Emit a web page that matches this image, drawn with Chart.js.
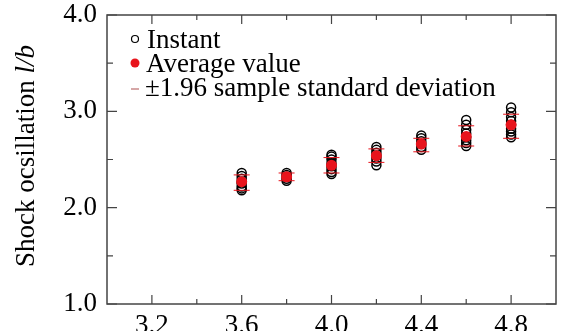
<!DOCTYPE html>
<html>
<head>
<meta charset="utf-8">
<script src="https://cdn.jsdelivr.net/npm/chart.js@4"></script>
<style>
  html, body { margin: 0; padding: 0; background: #fff; }
  #wrap { width: 565px; height: 331px; }
</style>
</head>
<body>
<div id="wrap"><canvas id="myChart" width="565" height="331"></canvas></div>
<script>
// Mach numbers (x positions of the clusters)
machs = [3.6, 3.8, 4.0, 4.2, 4.4, 4.6, 4.8];
// instant values
instant36 = [2.36, 2.33, 2.30, 2.27, 2.25, 2.22, 2.20, 2.18];
instant38 = [2.36, 2.34, 2.32, 2.30, 2.28];
instant40 = [2.55, 2.53, 2.50, 2.46, 2.43, 2.40, 2.37, 2.35];
instant42 = [2.63, 2.60, 2.57, 2.54, 2.51, 2.48, 2.44];
instant44 = [2.75, 2.72, 2.69, 2.66, 2.63, 2.60];
instant46 = [2.91, 2.86, 2.81, 2.77, 2.73, 2.70, 2.67, 2.64];
instant48 = [3.04, 2.99, 2.94, 2.90, 2.86, 2.82, 2.79, 2.76, 2.73];
averages = [2.27, 2.32, 2.44, 2.54, 2.66, 2.74, 2.86];
sdUpper = [2.34, 2.36, 2.52, 2.61, 2.72, 2.85, 2.97];
sdLower = [2.18, 2.28, 2.36, 2.47, 2.58, 2.64, 2.72];
xTicks = [3.2, 3.6, 4.0, 4.4, 4.8];
xMinor = [3.4, 3.8, 4.2, 4.6];
yTicks = [1.0, 2.0, 3.0, 4.0];
yMinor = [1.5, 2.5, 3.5];

instantLists = [instant36, instant38, instant40, instant42, instant44, instant46, instant48];
instantPts = [];
for (i = 0; i < machs.length; i++) {
  for (j = 0; j < instantLists[i].length; j++) {
    instantPts.push({x: machs[i], y: instantLists[i][j]});
  }
}
avgPts = [];
sdPts = [];
for (i = 0; i < machs.length; i++) {
  avgPts.push({x: machs[i], y: averages[i]});
  sdPts.push({x: machs[i], y: sdUpper[i]});
  sdPts.push({x: machs[i], y: sdLower[i]});
}

serif = "'Liberation Serif', 'Times New Roman', serif";
fs = 27;
axisColor = '#444';
red = '#e8141c';

// frame, inward ticks, legend and y title
let extras = {
  id: 'extras',
  afterDraw(chart) {
    let c = chart.ctx, a = chart.chartArea;
    let xs = chart.scales.x, ys = chart.scales.y;
    c.save();
    c.strokeStyle = axisColor;
    c.lineWidth = 1.5;
    c.strokeRect(a.left, a.top, a.right - a.left, a.bottom - a.top);
    c.lineWidth = 1.2;
    c.beginPath();
    function xt(v, len) {
      let p = xs.getPixelForValue(v);
      c.moveTo(p, a.bottom); c.lineTo(p, a.bottom - len);
      c.moveTo(p, a.top); c.lineTo(p, a.top + len);
    }
    function yt(v, len) {
      let p = ys.getPixelForValue(v);
      c.moveTo(a.left, p); c.lineTo(a.left + len, p);
      c.moveTo(a.right, p); c.lineTo(a.right - len, p);
    }
    xTicks.forEach(v => xt(v, 9));
    xMinor.forEach(v => xt(v, 5));
    yTicks.forEach(v => yt(v, 10));
    yMinor.forEach(v => yt(v, 6));
    c.stroke();

    // legend
    c.font = fs + 'px ' + serif;
    c.fillStyle = '#000';
    c.textBaseline = 'alphabetic';
    c.textAlign = 'left';
    let lx = 135, tx = 147;
    c.beginPath();
    c.lineWidth = 1.2;
    c.strokeStyle = '#000';
    c.arc(lx, 39, 3.5, 0, Math.PI * 2);
    c.stroke();
    c.fillText('Instant', tx, 48);
    c.beginPath();
    c.fillStyle = red;
    c.arc(lx, 63, 4.5, 0, Math.PI * 2);
    c.fill();
    c.fillStyle = '#000';
    c.fillText('Average value', tx - 1, 72);
    c.strokeStyle = '#c98a8a';
    c.lineWidth = 1.5;
    c.beginPath();
    c.moveTo(131, 89); c.lineTo(139, 89);
    c.stroke();
    c.fillText('\u00b11.96 sample standard deviation', tx - 2, 96);

    // y axis title with italic l/b
    c.translate(34, 156);
    c.rotate(-Math.PI / 2);
    let t1 = 'Shock ocsillation ', t2 = 'l/b';
    c.font = fs + 'px ' + serif;
    let w1 = c.measureText(t1).width;
    c.font = 'italic ' + fs + 'px ' + serif;
    let w2 = c.measureText(t2).width;
    let sx = -(w1 + w2) / 2;
    c.font = fs + 'px ' + serif;
    c.fillText(t1, sx, 0);
    c.font = 'italic ' + fs + 'px ' + serif;
    c.fillText(t2, sx + w1, 0);
    c.restore();
  }
};

let ctx = document.getElementById('myChart');
new Chart(ctx, {
  type: 'scatter',
  data: {
    datasets: [
      {
        label: '\u00b11.96 sample standard deviation',
        data: sdPts,
        pointStyle: 'line',
        pointRadius: 8,
        borderColor: red,
        borderWidth: 1,
        order: 0
      },
      {
        label: 'Average value',
        data: avgPts,
        pointStyle: 'circle',
        pointRadius: 5.5,
        backgroundColor: red,
        borderColor: red,
        borderWidth: 0,
        order: 1
      },
      {
        label: 'Instant',
        data: instantPts,
        pointStyle: 'circle',
        pointRadius: 4.5,
        backgroundColor: 'rgba(255,255,255,0)',
        borderColor: '#000',
        borderWidth: 1.5,
        order: 2
      }
    ]
  },
  options: {
    responsive: false,
    animation: false,
    layout: {padding: {left: 0, right: 8, top: 0, bottom: 0}},
    plugins: {legend: {display: false}, tooltip: {enabled: false}},
    scales: {
      x: {
        type: 'linear',
        min: 3.0,
        max: 5.0,
        afterBuildTicks: s => { s.ticks = xTicks.map(v => ({value: v})); },
        afterFit: s => { s.height = 27; },
        grid: {display: false, drawTicks: false},
        border: {display: false},
        ticks: {
          padding: 6,
          color: '#000',
          font: {family: serif, size: fs},
          callback: v => v.toFixed(1)
        }
      },
      y: {
        type: 'linear',
        min: 1.0,
        max: 4.0,
        afterBuildTicks: s => { s.ticks = yTicks.map(v => ({value: v})); },
        afterFit: s => { s.width = 107; s.paddingTop = 15; s.paddingBottom = 0; },
        grid: {display: false, drawTicks: false},
        border: {display: false},
        ticks: {
          padding: 10,
          color: '#000',
          font: {family: serif, size: fs},
          callback: v => v.toFixed(1)
        }
      }
    }
  },
  plugins: [extras]
});
</script>
</body>
</html>
